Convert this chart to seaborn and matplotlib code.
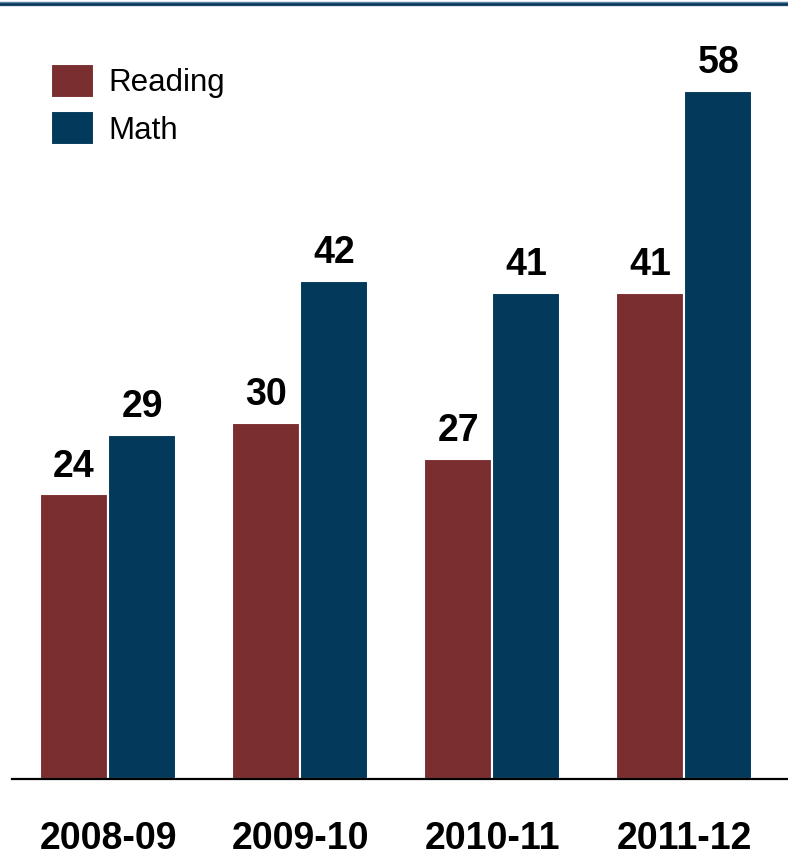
import matplotlib
matplotlib.use("Agg")
import matplotlib.pyplot as plt
from matplotlib.lines import Line2D
import seaborn as sns
import pandas as pd

years = ["2008-09", "2009-10", "2010-11", "2011-12"]
reading = [24, 30, 27, 41]
math_vals = [29, 42, 41, 58]
series = ["Reading", "Math"]
colors = ["#7A2E2F", "#03395A"]

df = pd.DataFrame({
    "year": years * 2,
    "value": reading + math_vals,
    "subject": [series[0]] * len(years) + [series[1]] * len(years),
})

sns.set_theme(style="white")
plt.rcParams["font.family"] = ["Liberation Sans", "DejaVu Sans"]

fig = plt.figure(figsize=(7.88, 8.64), dpi=100)
ax = fig.add_axes([12 / 788, 85 / 864, 1 - 12 / 788, 759 / 864])

sns.barplot(data=df, x="year", y="value", hue="subject", order=years,
            hue_order=series, palette=colors, width=0.71, saturation=1,
            edgecolor="white", linewidth=1.5, ax=ax, legend=True)

for cont in ax.containers:
    ax.bar_label(cont, fmt="%d", padding=7, fontsize=27, fontweight="bold",
                 color="black")

ax.set_xlim(-0.5, 3.54)
ax.set_ylim(0, 64)
ax.set_xlabel("")
ax.set_ylabel("")
ax.set_yticks([])
for s in ["top", "right", "left"]:
    ax.spines[s].set_visible(False)
ax.spines["bottom"].set_color("black")
ax.spines["bottom"].set_linewidth(1.6)
ax.tick_params(axis="x", length=0, pad=30, labelsize=27)
for lab in ax.get_xticklabels():
    lab.set_fontweight("bold")
    lab.set_color("black")

leg = ax.legend(loc="upper left", bbox_to_anchor=(0.034, 0.959), frameon=False,
                fontsize=22.5, handlelength=1.38, handleheight=1.3,
                handletextpad=0.45, labelspacing=0.42, borderaxespad=0)
for t in leg.get_texts():
    t.set_color("black")

fig.add_artist(Line2D([0, 1], [1 - 4 / 864, 1 - 4 / 864], transform=fig.transFigure,
                      color="#5A86A8", linewidth=3.2))
fig.add_artist(Line2D([0, 1], [1 - 4 / 864, 1 - 4 / 864], transform=fig.transFigure,
                      color="#0B3554", linewidth=1.8))

fig.savefig("out.png", dpi=100)
